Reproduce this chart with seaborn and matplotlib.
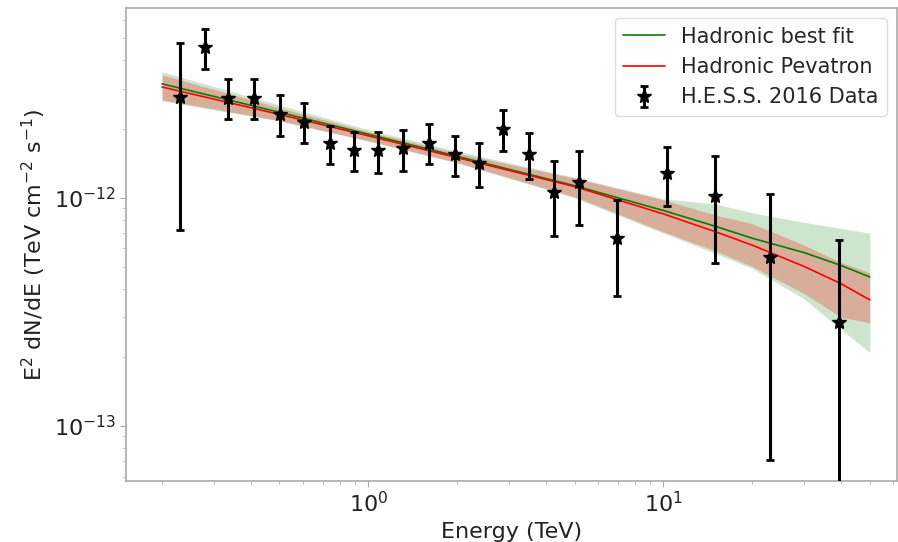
import numpy as np
import pandas as pd
import matplotlib
matplotlib.use("Agg")
import matplotlib.pyplot as plt
from matplotlib.lines import Line2D
from matplotlib.ticker import LogLocator, NullFormatter, FixedLocator, LogFormatterSciNotation
import seaborn as sns

# ---- H.E.S.S. 2016 data (TeV, TeV cm^-2 s^-1) ----
energy = [0.231, 0.280, 0.335, 0.411, 0.503, 0.607, 0.743, 0.897, 1.08, 1.31,
          1.60, 1.96, 2.38, 2.87, 3.51, 4.27, 5.19, 6.98, 10.3, 14.9, 22.9, 39.2]
flux = [2.77e-12, 4.59e-12, 2.75e-12, 2.75e-12, 2.34e-12, 2.15e-12, 1.74e-12, 1.62e-12,
        1.62e-12, 1.66e-12, 1.74e-12, 1.56e-12, 1.42e-12, 2.01e-12, 1.56e-12, 1.06e-12,
        1.17e-12, 6.68e-13, 1.29e-12, 1.02e-12, 5.51e-13, 2.86e-13]
flux_hi = [4.78e-12, 5.51e-12, 3.33e-12, 3.33e-12, 2.83e-12, 2.61e-12, 2.07e-12, 1.95e-12,
           1.95e-12, 1.99e-12, 2.11e-12, 1.87e-12, 1.74e-12, 2.43e-12, 1.93e-12, 1.45e-12,
           1.61e-12, 9.8e-13, 1.67e-12, 1.53e-12, 1.04e-12, 6.54e-13]
flux_lo = [7.24e-13, 3.68e-12, 2.22e-12, 2.22e-12, 1.87e-12, 1.74e-12, 1.40e-12, 1.31e-12,
           1.29e-12, 1.31e-12, 1.40e-12, 1.25e-12, 1.12e-12, 1.61e-12, 1.21e-12, 6.81e-13,
           7.61e-13, 3.72e-13, 9.22e-13, 5.19e-13, 7.1e-14, 1.0e-16]

# ---- model curves ----
model_E = [0.2, 0.5, 1, 2, 5, 10, 15, 20, 30, 40, 50]
best_fit = [3.16e-12, 2.37e-12, 1.90e-12, 1.52e-12, 1.13e-12, 8.8e-13, 7.5e-13, 6.65e-13,
            5.75e-13, 5.05e-13, 4.5e-13]
best_fit_lo = [2.66e-12, 2.17e-12, 1.77e-12, 1.42e-12, 1.00e-12, 7.0e-13, 5.7e-13, 4.9e-13,
               3.6e-13, 2.65e-13, 2.1e-13]
best_fit_hi = [3.57e-12, 2.55e-12, 1.99e-12, 1.60e-12, 1.23e-12, 9.9e-13, 9.4e-13, 8.6e-13,
               7.8e-13, 7.35e-13, 7.0e-13]
pevatron = [3.06e-12, 2.32e-12, 1.87e-12, 1.50e-12, 1.12e-12, 8.5e-13, 7.1e-13, 6.2e-13,
            5.0e-13, 4.2e-13, 3.57e-13]
pevatron_lo = [2.69e-12, 2.18e-12, 1.78e-12, 1.43e-12, 1.01e-12, 7.1e-13, 5.85e-13, 5.0e-13,
               3.8e-13, 3.0e-13, 2.83e-13]
pevatron_hi = [3.46e-12, 2.48e-12, 1.95e-12, 1.57e-12, 1.22e-12, 9.8e-13, 8.4e-13, 7.7e-13,
               6.2e-13, 5.2e-13, 4.7e-13]

labels = ["Hadronic best fit", "Hadronic Pevatron", "H.E.S.S. 2016 Data"]
x_major = [1, 10]
y_major = [1e-13, 1e-12]

sns.set_style("white")
plt.rcParams['font.family'] = ['DejaVu Sans']

fig = plt.figure(figsize=(8.98, 5.42), dpi=100)
ax = fig.add_axes([0.1403, 0.1125, 0.859, 0.873])
ax.set_xscale("log")
ax.set_yscale("log")

ax.fill_between(model_E, best_fit_lo, best_fit_hi, color="green", alpha=0.2, linewidth=0)
ax.fill_between(model_E, pevatron_lo, pevatron_hi, color="red", alpha=0.24, linewidth=0)

df = pd.DataFrame({
    "E": model_E + model_E,
    "F": best_fit + pevatron,
    "model": [labels[0]] * len(model_E) + [labels[1]] * len(model_E),
})
sns.lineplot(data=df, x="E", y="F", hue="model",
             palette={labels[0]: "green", labels[1]: "red"},
             linewidth=1.2, legend=False, ax=ax, sort=True)

f = np.array(flux)
yerr = np.vstack([f - np.array(flux_lo), np.array(flux_hi) - f])
eb = ax.errorbar(energy, flux, yerr=yerr, fmt="*", color="black", ecolor="black",
                 markersize=10, elinewidth=2.2, capsize=3, capthick=2, zorder=5)

ax.set_xlim(0.151, 62)
ax.set_ylim(5.74e-14, 6.8e-12)

ax.xaxis.set_major_locator(FixedLocator(x_major))
ax.yaxis.set_major_locator(FixedLocator(y_major))
ax.xaxis.set_major_formatter(LogFormatterSciNotation())
ax.yaxis.set_major_formatter(LogFormatterSciNotation())
ax.xaxis.set_minor_locator(LogLocator(base=10, subs=np.arange(2, 10)))
ax.yaxis.set_minor_locator(LogLocator(base=10, subs=np.arange(2, 10)))
ax.xaxis.set_minor_formatter(NullFormatter())
ax.yaxis.set_minor_formatter(NullFormatter())

for s in ax.spines.values():
    s.set_color("#aaaaaa")
    s.set_linewidth(1.2)
ax.tick_params(which="both", direction="out", colors="#aaaaaa", labelcolor="#222222",
               bottom=True, left=True)
ax.tick_params(which="major", length=4, labelsize=16)
ax.tick_params(which="minor", length=2)

ax.set_xlabel("Energy (TeV)", fontsize=16, color="#222222")
ax.set_ylabel(r"E$^2$ dN/dE (TeV cm$^{-2}$ s$^{-1}$)", fontsize=16, color="#222222")

handles = [Line2D([], [], color="green", lw=1.2),
           Line2D([], [], color="red", lw=1.2),
           eb]
ax.legend(handles, labels, loc="upper right", fontsize=15, frameon=True,
          framealpha=1, edgecolor="#dddddd", borderpad=0.4, handlelength=2.0)

fig.savefig("out.png", dpi=100)
